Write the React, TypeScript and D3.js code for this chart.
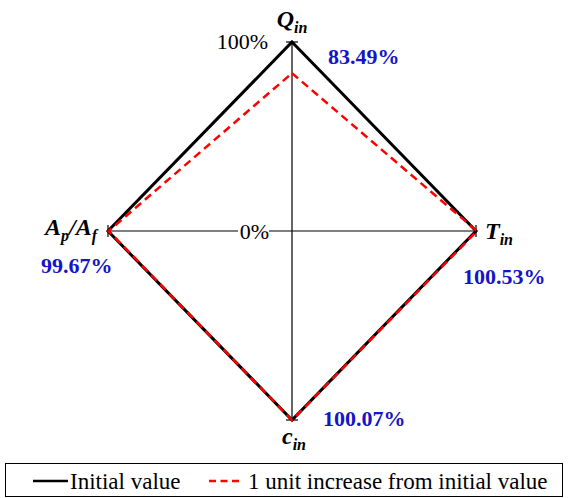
import React from "react";
import * as d3 from "d3";

// Radar axes, clockwise from the top
const axisKeys = ["Q", "T", "c", "A"];
const initialValues = [100, 100, 100, 100];
const increasedValues = [83.49, 100.53, 100.07, 99.67];
const valueLabels = ["83.49%", "100.53%", "100.07%", "99.67%"];
const ringLabels = ["0%", "100%"];
const legendLabels = ["Initial value", "1 unit increase from initial value"];

const W = 568;
const H = 498;
const cx = 292;
const cy = 231;
const RX = 184;
const RY = 189;

const FONT = "Liberation Serif";

export default function App() {
  const r = d3.scaleLinear().domain([0, 100]).range([0, 1]);
  const angle = d3.scalePoint<string>().domain(axisKeys).range([0, 270]);

  const pt = (key: string, v: number): [number, number] => {
    const a = ((angle(key) as number) * Math.PI) / 180;
    return [cx + Math.sin(a) * r(v) * RX, cy - Math.cos(a) * r(v) * RY];
  };

  const line = d3.line<[number, number]>().curve(d3.curveLinearClosed);
  const initPath = line(axisKeys.map((k, i) => pt(k, initialValues[i]))) || "";
  const incPath = line(axisKeys.map((k, i) => pt(k, increasedValues[i]))) || "";

  const blue = "#1414c8";
  const labelPos: [number, number][] = [
    [328, 64],
    [463, 284],
    [323, 426],
    [41, 273],
  ];

  return (
    <svg width={W} height={H} style={{ position: "absolute", left: 0, top: 0, background: "#fff", fontFamily: FONT }}>
      <rect width={W} height={H} fill="#fff" />
      {/* axes with end ticks */}
      {axisKeys.map((k) => {
        const [x, y] = pt(k, 100);
        const vertical = Math.abs(x - cx) < 1;
        return (
          <g key={k}>
            <line x1={cx} y1={cy} x2={x} y2={y} stroke="#000" strokeWidth={1.2} />
            {vertical ? (
              <line x1={x - 6} x2={x + 6} y1={y} y2={y} stroke="#000" strokeWidth={1.2} />
            ) : (
              <line x1={x} x2={x} y1={y - 6} y2={y + 6} stroke="#000" strokeWidth={1.2} />
            )}
          </g>
        );
      })}
      {/* ring labels */}
      <rect x={238} y={221} width={31} height={20} fill="#fff" />
      <text x={269} y={239} textAnchor="end" style={{ fontFamily: FONT }} fontSize={22}>{ringLabels[0]}</text>
      <text x={268} y={49} textAnchor="end" style={{ fontFamily: FONT }} fontSize={22}>{ringLabels[1]}</text>

      <path d={initPath} fill="none" stroke="#000" strokeWidth={3} strokeLinejoin="miter" />
      <path d={incPath} fill="none" stroke="#ff0000" strokeWidth={2.5} strokeDasharray="8,5" />

      {/* axis titles */}
      <g fontWeight="bold" fontStyle="italic">
        <text x={292} y={27} textAnchor="middle" fontSize={24} style={{ fontFamily: FONT }}>
          Q<tspan fontSize={16} dy={6}>in</tspan>
        </text>
        <text x={485} y={239} fontSize={24} style={{ fontFamily: FONT }}>
          T<tspan fontSize={16} dy={6}>in</tspan>
        </text>
        <text x={294} y={444} textAnchor="middle" fontSize={24} style={{ fontFamily: FONT }}>
          c<tspan fontSize={16} dy={6}>in</tspan>
        </text>
        <text x={45} y={235} fontSize={24} style={{ fontFamily: FONT }}>
          A<tspan fontSize={16} dy={6}>p</tspan>
          <tspan dy={-6}>/A</tspan>
          <tspan fontSize={16} dy={6}>f</tspan>
        </text>
      </g>

      {/* value labels */}
      {valueLabels.map((t, i) => (
        <text key={t} x={labelPos[i][0]} y={labelPos[i][1]} fill={blue} style={{ fontFamily: FONT }} fontWeight="bold" fontSize={22}>
          {t}
        </text>
      ))}

      {/* legend */}
      <rect x={5.5} y={463.5} width={557} height={33} fill="#fff" stroke="#000" strokeWidth={1} />
      <line x1={33} x2={68} y1={481} y2={481} stroke="#000" strokeWidth={2.5} />
      <text x={70} y={489} style={{ fontFamily: FONT }} fontSize={23}>{legendLabels[0]}</text>
      <line x1={209} x2={242} y1={481} y2={481} stroke="#ff0000" strokeWidth={2.5} strokeDasharray="7,4.5" />
      <text x={248} y={489} style={{ fontFamily: FONT }} fontSize={23}>{legendLabels[1]}</text>
    </svg>
  );
}
